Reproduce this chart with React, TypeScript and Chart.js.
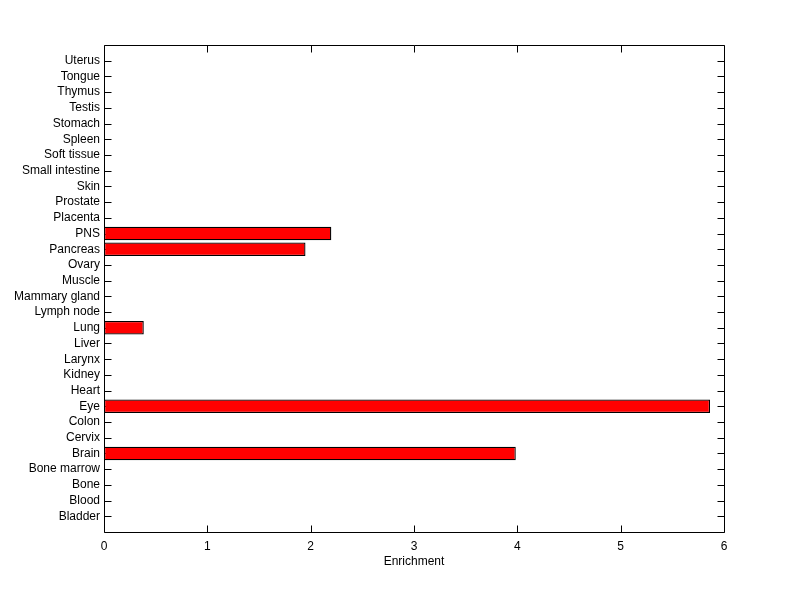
import React, { useEffect, useRef } from "react";
import { Chart, registerables } from "chart.js";

Chart.register(...registerables);

const tissues = [
  "Bladder", "Blood", "Bone", "Bone marrow", "Brain", "Cervix", "Colon", "Eye",
  "Heart", "Kidney", "Larynx", "Liver", "Lung", "Lymph node", "Mammary gland",
  "Muscle", "Ovary", "Pancreas", "PNS", "Placenta", "Prostate", "Skin",
  "Small intestine", "Soft tissue", "Spleen", "Stomach", "Testis", "Thymus",
  "Tongue", "Uterus",
];
const enrichment = [
  0, 0, 0, 0, 3.985, 0, 0, 5.865,
  0, 0, 0, 0, 0.385, 0, 0,
  0, 0, 1.95, 2.2, 0, 0, 0,
  0, 0, 0, 0, 0, 0,
  0, 0,
];
const xTicks = [0, 1, 2, 3, 4, 5, 6];
const xTitle = "Enrichment";

const FONT = "'Liberation Sans', Arial, sans-serif";

const framePlugin = {
  id: "matlabFrame",
  beforeDatasetsDraw(chart: any) {
    const { ctx, chartArea } = chart;
    const xs = chart.scales.x;
    const ys = chart.scales.y;
    const tl = 7;
    ctx.save();
    ctx.strokeStyle = "#000";
    ctx.lineWidth = 1;
    ctx.beginPath();
    const L = Math.round(chartArea.left) + 0.5;
    const R = Math.round(chartArea.right) + 0.5;
    const T = Math.round(chartArea.top) + 0.5;
    const B = Math.round(chartArea.bottom) + 0.5;
    ctx.rect(L, T, R - L, B - T);
    xs.ticks.forEach((_t: any, i: number) => {
      const px = Math.round(xs.getPixelForTick(i)) + 0.5;
      ctx.moveTo(px, B);
      ctx.lineTo(px, B - tl);
      ctx.moveTo(px, T);
      ctx.lineTo(px, T + tl);
    });
    ys.ticks.forEach((t: any, i: number) => {
      const lbl = ys.getLabelForValue(t.value);
      if (!lbl) return;
      const py = Math.round(ys.getPixelForTick(i)) + 0.5;
      ctx.moveTo(L, py);
      ctx.lineTo(L + tl, py);
      ctx.moveTo(R, py);
      ctx.lineTo(R - tl, py);
    });
    ctx.stroke();
    ctx.restore();
  },
};

export default function App() {
  const ref = useRef<HTMLCanvasElement | null>(null);
  useEffect(() => {
    document.body.style.margin = "0";
    const labels = ["", ...tissues, ""];
    const data = [null, ...enrichment, null];
    const chart = new Chart(ref.current!, {
      type: "bar",
      data: {
        labels,
        datasets: [
          {
            data: data as any,
            backgroundColor: "#ff0000",
            borderColor: "#000000",
            borderWidth: 1.3,
            borderSkipped: false,
            categoryPercentage: 1,
            barPercentage: 0.86,
          },
        ],
      },
      options: {
        indexAxis: "y",
        animation: false,
        responsive: false,
        maintainAspectRatio: false,
        layout: { padding: { left: 0, top: 45, right: 76, bottom: 30 } },
        plugins: { legend: { display: false }, tooltip: { enabled: false } },
        scales: {
          x: {
            type: "linear",
            min: 0,
            max: 6,
            afterBuildTicks: (s: any) => {
              s.ticks = xTicks.map((v) => ({ value: v }));
            },
            afterFit: (s: any) => {
              s.height = 37;
            },
            grid: { display: false, drawTicks: false },
            border: { display: false },
            ticks: {
              color: "#000",
              padding: 7,
              font: { family: FONT, size: 12 },
              maxRotation: 0,
            },
            title: {
              display: true,
              text: xTitle,
              color: "#000",
              font: { family: FONT, size: 12 },
              padding: { top: 2, bottom: 0 },
            },
          },
          y: {
            type: "category",
            reverse: true,
            offset: false,
            afterFit: (s: any) => {
              s.width = 104;
            },
            grid: { display: false, drawTicks: false },
            border: { display: false },
            ticks: {
              color: "#000",
              padding: 4,
              autoSkip: false,
              font: { family: FONT, size: 12 },
            },
          },
        },
      },
      plugins: [framePlugin],
    } as any);
    return () => chart.destroy();
  }, []);
  return (
    <div style={{ position: "absolute", left: 0, top: 0, width: 800, height: 599, background: "#fff" }}>
      <canvas ref={ref} width={800} height={599} style={{ width: 800, height: 599 }} />
    </div>
  );
}
